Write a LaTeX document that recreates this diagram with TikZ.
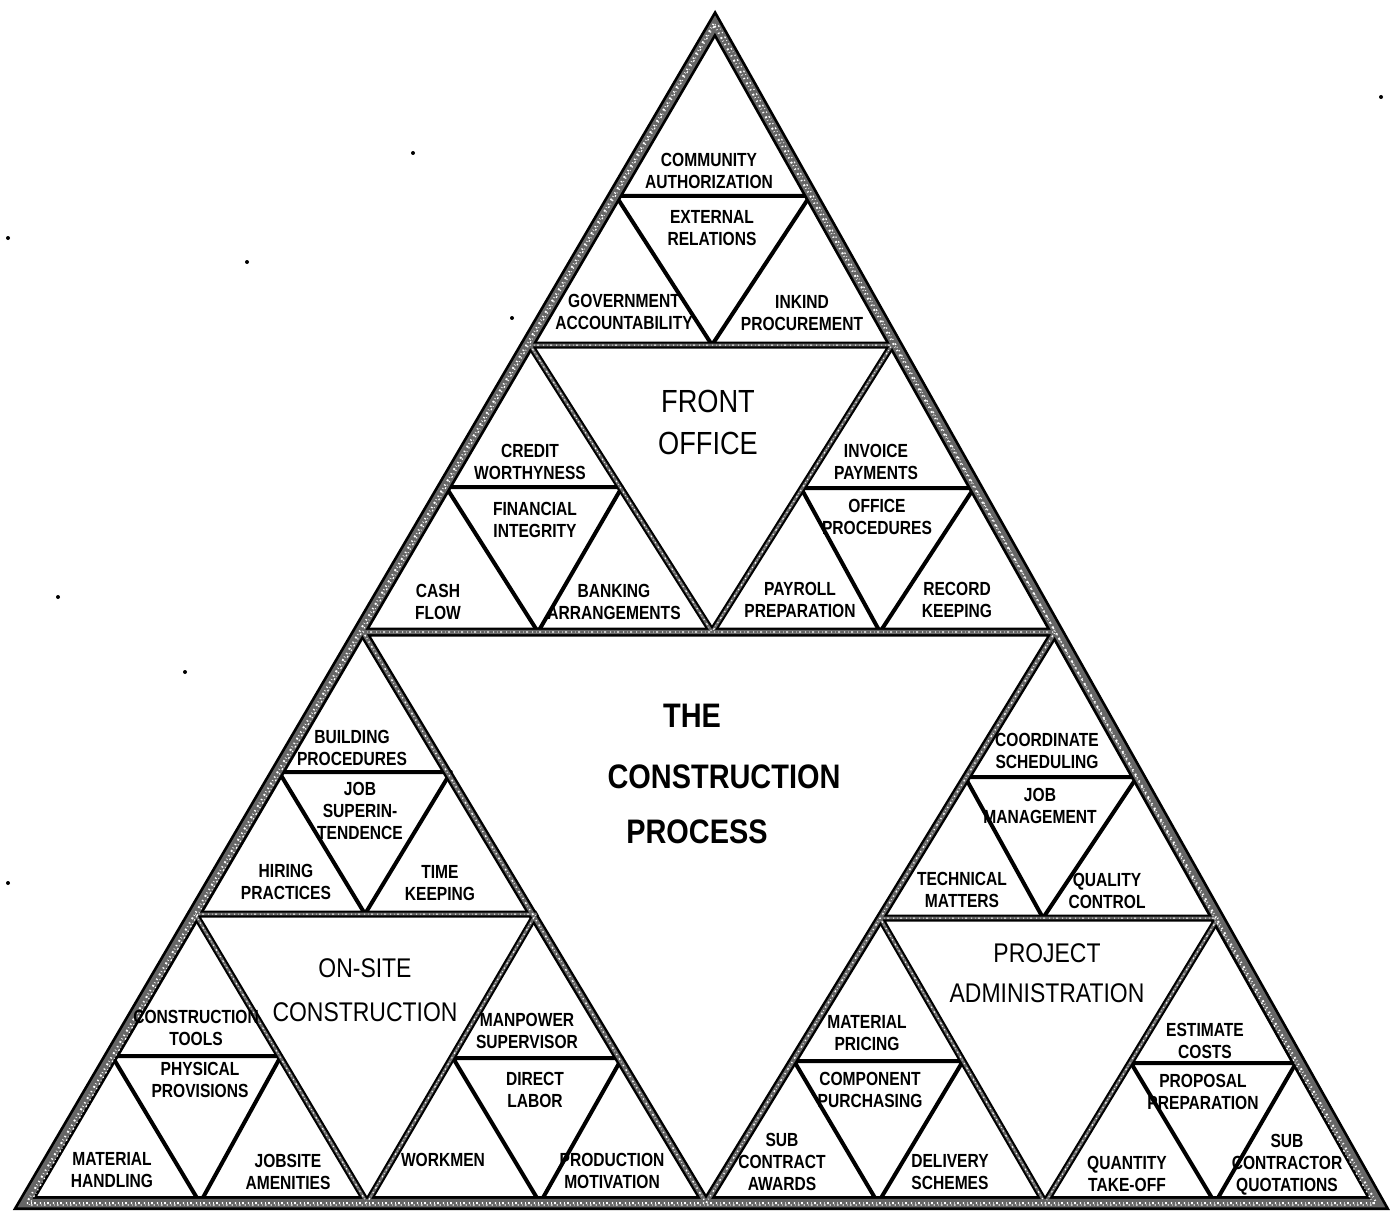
\documentclass[tikz,border=0pt]{standalone}
\usepackage{fontspec}
\newfontfamily\hand[FakeStretch=0.82]{Liberation Sans}
\newfontfamily\handwide[FakeStretch=0.85]{Liberation Sans}
\begin{document}
\begin{tikzpicture}[x=1pt,y=-1pt,
  lbl/.style={font=\hand\bfseries\fontsize{19}{22}\selectfont, align=center, inner sep=0pt},
  big/.style={font=\handwide\fontsize{32}{42}\selectfont, align=center, inner sep=0pt},
  huge/.style={font=\handwide\bfseries\fontsize{34}{57}\selectfont, align=center, inner sep=0pt},
  divline/.style={draw=black, line width=4pt, line join=round, line cap=round},
  bandblack/.style={draw=black, line width=#1, line join=bevel},
  bandgray/.style={draw=black!60, line width=#1, line join=bevel},
  bandspeck/.style={draw=white, line width=#1, dash pattern=on 1.2pt off 3.1pt on 0.6pt off 2.3pt on 1.8pt off 4pt},
  outerblack/.style={draw=black, line width=#1, line join=miter, miter limit=10},
  outergray/.style={draw=black!60, line width=#1, line join=miter, miter limit=10},
  speck/.style={fill=black}]
\useasboundingbox (0,0) rectangle (1397,1217);
\fill[white] (0,0) rectangle (1397,1217);
% main vertices
\coordinate (A) at (715,24);
\coordinate (L) at (25,1203);
\coordinate (R) at (1378,1203);
\coordinate (P1) at (363,632);
\coordinate (P2) at (1055,632);
\coordinate (P3) at (706,1203);
\coordinate (Q1) at (530,345);
\coordinate (Q2) at (892,345);
\coordinate (Q3) at (712,632);
\coordinate (S1) at (195,914);
\coordinate (S2) at (536,914);
\coordinate (S3) at (367,1203);
\coordinate (T1) at (880,918);
\coordinate (T2) at (1218,918);
\coordinate (T3) at (1045,1203);
% level-3 vertices
\coordinate (ta1) at (616,196); \coordinate (ta2) at (810,196); \coordinate (ta3) at (712,345);
\coordinate (tb1) at (446,487); \coordinate (tb2) at (622,487); \coordinate (tb3) at (538,632);
\coordinate (tc1) at (801,488); \coordinate (tc2) at (974,488); \coordinate (tc3) at (880,632);
\coordinate (la1) at (279,772); \coordinate (la2) at (451,772); \coordinate (la3) at (365,914);
\coordinate (lb1) at (112,1056); \coordinate (lb2) at (281,1056); \coordinate (lb3) at (200,1203);
\coordinate (lc1) at (453,1058); \coordinate (lc2) at (622,1058); \coordinate (lc3) at (540,1203);
\coordinate (ra1) at (965,777); \coordinate (ra2) at (1137,777); \coordinate (ra3) at (1043,918);
\coordinate (rb1) at (794,1061); \coordinate (rb2) at (963,1061); \coordinate (rb3) at (878,1203);
\coordinate (rc1) at (1131,1063); \coordinate (rc2) at (1296,1063); \coordinate (rc3) at (1215,1203);
% level-3 plain lines
\foreach \p in {ta,tb,tc,la,lb,lc,ra,rb,rc}
  \draw[divline] (\p1) -- (\p2) -- (\p3) -- cycle;
% black bands
\draw[bandblack=7pt] (Q1) -- (Q2) -- (Q3) -- cycle (S1) -- (S2) -- (S3) -- cycle (T1) -- (T2) -- (T3) -- cycle;
\draw[bandblack=9pt] (P1) -- (P2) -- (P3) -- cycle;
\draw[outerblack=14pt] (A) -- (L) -- (R) -- cycle;
% band texture
\draw[bandgray=2.8pt] (Q1) -- (Q2) -- (Q3) -- cycle (S1) -- (S2) -- (S3) -- cycle (T1) -- (T2) -- (T3) -- cycle;
\draw[bandgray=4.2pt] (P1) -- (P2) -- (P3) -- cycle;
\draw[outergray=8.5pt] (A) -- (L) -- (R) -- cycle;
\draw[bandspeck=1pt] (Q1) -- (Q2) -- (Q3) -- cycle (S1) -- (S2) -- (S3) -- cycle (T1) -- (T2) -- (T3) -- cycle;
\draw[bandspeck=1.4pt] (P1) -- (P2) -- (P3) -- cycle;
\draw[bandspeck=2pt] ([xshift=-1.5pt]A) -- ([xshift=1.5pt]L) -- ([xshift=-1.5pt]R) -- cycle;
\draw[bandspeck=1.2pt, dash phase=2pt] ([xshift=1.5pt,yshift=2pt]A) -- ([xshift=4pt,yshift=-2pt]L) -- ([xshift=-4pt,yshift=-2pt]R) -- cycle;
% big labels
\node[big] (fo) at (708,422) {FRONT\\OFFICE};
\node[big, font=\handwide\fontsize{27}{44}\selectfont] (os) at (365,990) {ON-SITE\\CONSTRUCTION};
\node[big, font=\handwide\fontsize{27}{40}\selectfont] (pa) at (1047,973) {PROJECT\\ADMINISTRATION};
\node[huge] (cp1) at (692,716) {THE};
\node[huge] (cp2) at (724,777) {CONSTRUCTION};
\node[huge] (cp3) at (697,832) {PROCESS};
% top-top
\node[lbl] (n1) at (709,171) {COMMUNITY\\AUTHORIZATION};
\node[lbl] (n2) at (712,228) {EXTERNAL\\RELATIONS};
\node[lbl] (n3) at (624,312) {GOVERNMENT\\ACCOUNTABILITY};
\node[lbl] (n4) at (802,313) {INKIND\\PROCUREMENT};
% top-left
\node[lbl] (n5) at (530,462) {CREDIT\\WORTHYNESS};
\node[lbl] (n6) at (535,520) {FINANCIAL\\INTEGRITY};
\node[lbl] (n7) at (438,602) {CASH\\FLOW};
\node[lbl] (n8) at (614,602) {BANKING\\ARRANGEMENTS};
% top-right
\node[lbl] (n9) at (876,462) {INVOICE\\PAYMENTS};
\node[lbl] (n10) at (877,517) {OFFICE\\PROCEDURES};
\node[lbl] (n11) at (800,600) {PAYROLL\\PREPARATION};
\node[lbl] (n12) at (957,600) {RECORD\\KEEPING};
% bottom-left top
\node[lbl] (n13) at (352,748) {BUILDING\\PROCEDURES};
\node[lbl] (n14) at (360,811) {JOB\\SUPERIN-\\TENDENCE};
\node[lbl] (n15) at (286,882) {HIRING\\PRACTICES};
\node[lbl] (n16) at (440,883) {TIME\\KEEPING};
% bottom-left left
\node[lbl] (n17) at (196,1028) {CONSTRUCTION\\TOOLS};
\node[lbl] (n18) at (200,1080) {PHYSICAL\\PROVISIONS};
\node[lbl] (n19) at (112,1170) {MATERIAL\\HANDLING};
\node[lbl] (n20) at (288,1172) {JOBSITE\\AMENITIES};
% bottom-left right
\node[lbl] (n21) at (527,1031) {MANPOWER\\SUPERVISOR};
\node[lbl] (n22) at (535,1090) {DIRECT\\LABOR};
\node[lbl] (n23) at (443,1160) {WORKMEN};
\node[lbl] (n24) at (612,1171) {PRODUCTION\\MOTIVATION};
% bottom-right top
\node[lbl] (n25) at (1047,751) {COORDINATE\\SCHEDULING};
\node[lbl] (n26) at (1040,806) {JOB\\MANAGEMENT};
\node[lbl] (n27) at (962,890) {TECHNICAL\\MATTERS};
\node[lbl] (n28) at (1107,891) {QUALITY\\CONTROL};
% bottom-right left
\node[lbl] (n29) at (867,1033) {MATERIAL\\PRICING};
\node[lbl] (n30) at (870,1090) {COMPONENT\\PURCHASING};
\node[lbl] (n31) at (782,1162) {SUB\\CONTRACT\\AWARDS};
\node[lbl] (n32) at (950,1172) {DELIVERY\\SCHEMES};
% bottom-right right
\node[lbl] (n33) at (1205,1041) {ESTIMATE\\COSTS};
\node[lbl] (n34) at (1203,1092) {PROPOSAL\\PREPARATION};
\node[lbl] (n35) at (1127,1174) {QUANTITY\\TAKE-OFF};
\node[lbl] (n36) at (1287,1165) {SUB\\CONTRACTOR\\QUOTATIONS};
% stray specks
\fill[speck] (413,153) circle (2pt);
\fill[speck] (247,262) circle (2pt);
\fill[speck] (8,238) circle (2pt);
\fill[speck] (512,318) circle (2pt);
\fill[speck] (58,597) circle (2pt);
\fill[speck] (185,672) circle (2pt);
\fill[speck] (8,883) circle (2pt);
\fill[speck] (1381,97) circle (2pt);
\end{tikzpicture}
\end{document}
